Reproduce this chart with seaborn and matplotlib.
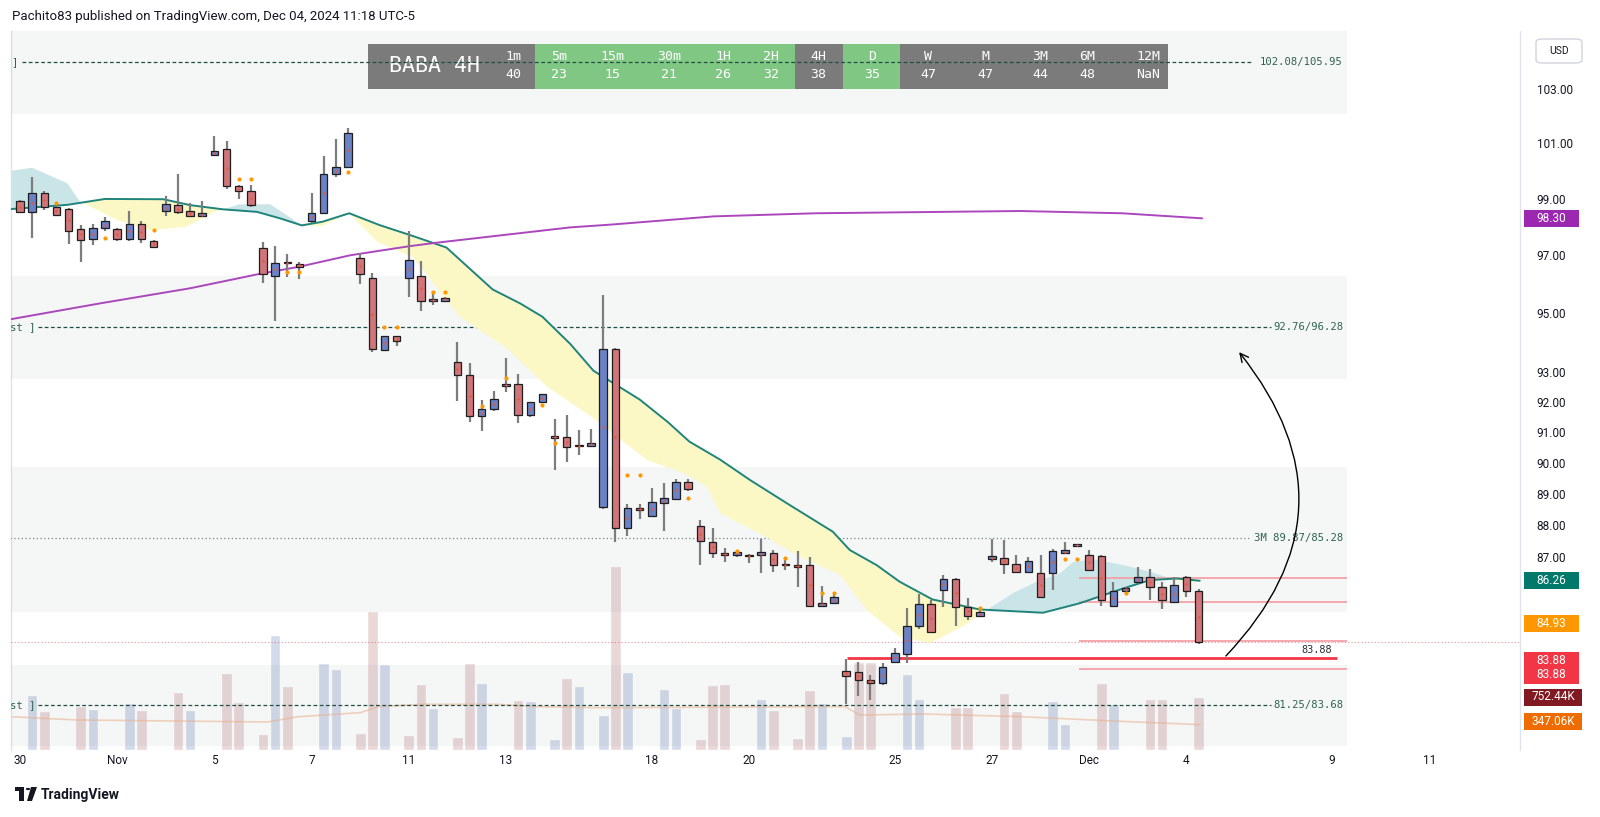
import numpy as np
import pandas as pd
import seaborn as sns
import matplotlib.pyplot as plt
from matplotlib.patches import Rectangle, FancyArrowPatch, FancyBboxPatch
from matplotlib.ticker import NullFormatter, NullLocator

# -----------------------------------
# Candles (4H bars, bar 0 = Oct 30 first bar)
# -----------------------------------
opens = [98.91, 98.53, 99.19, 98.71, 98.62, 97.94, 97.56, 97.96, 97.91, 97.58,
         98.10, 97.51, 98.56, 98.76, 98.56, 98.39, 100.58, 100.78, 99.44, 99.26,
         97.26, 96.28, 96.75, 96.70, 98.19, 98.50, 99.88, 100.14, 96.90, 96.19,
         93.75, 94.20, 96.22, 96.29, 95.40, 95.42, 93.34, 92.89, 91.52, 91.77,
         92.54, 92.61, 91.55, 91.98, 90.86, 90.83, 90.55, 90.55, 88.58, 93.76,
         87.92, 88.55, 88.28, 88.69, 88.84, 89.37, 87.96, 87.47, 87.13, 87.06,
         87.02, 87.04, 87.12, 86.75, 86.74, 86.74, 85.48, 85.55, 83.49, 83.46,
         83.22, 83.14, 83.76, 84.01, 84.86, 85.54, 85.96, 86.31, 85.45, 85.17,
         86.92, 86.95, 86.76, 86.53, 86.48, 86.48, 87.12, 87.33, 87.06, 87.03,
         85.46, 85.94, 86.20, 86.36, 86.05, 85.59, 86.36, 85.93]
highs = [98.95, 99.78, 99.27, 98.75, 98.65, 98.06, 98.11, 98.34, 97.95, 98.55,
         98.20, 97.55, 99.09, 99.90, 98.83, 98.93, 101.26, 101.10, 99.50, 99.49,
         97.45, 97.32, 97.06, 96.76, 99.20, 100.53, 101.14, 101.57, 97.08, 96.39,
         94.22, 94.22, 97.85, 96.81, 95.76, 95.55, 94.00, 93.31, 92.07, 92.35,
         93.48, 92.92, 91.99, 92.27, 91.44, 91.56, 91.08, 91.10, 95.62, 93.80,
         88.68, 88.68, 89.18, 89.36, 89.47, 89.47, 88.16, 87.91, 87.28, 87.20,
         87.08, 87.55, 87.21, 86.90, 87.17, 86.98, 86.08, 85.80, 83.85, 83.75,
         83.37, 83.72, 84.18, 85.40, 85.83, 85.65, 86.43, 86.35, 85.71, 85.45,
         87.55, 87.53, 87.07, 86.98, 87.04, 87.25, 87.46, 87.40, 87.21, 87.05,
         86.21, 86.05, 86.69, 86.63, 86.21, 86.37, 86.40, 86.00]
lows = [98.50, 97.59, 98.59, 98.40, 97.38, 96.76, 97.35, 97.86, 97.51, 97.51,
        97.44, 97.27, 98.38, 98.44, 98.36, 98.36, 100.55, 99.35, 98.98, 98.69,
        96.02, 94.73, 96.25, 96.16, 98.12, 98.45, 99.76, 100.10, 96.00, 93.67,
        93.72, 93.88, 95.54, 95.07, 95.26, 95.40, 92.04, 91.33, 91.04, 91.71,
        92.32, 91.31, 91.49, 91.96, 89.76, 90.03, 90.27, 90.53, 88.50, 87.47,
        87.66, 88.18, 88.25, 87.82, 88.80, 89.10, 86.74, 86.96, 86.82, 87.00,
        86.79, 86.50, 86.53, 86.58, 86.06, 85.45, 85.43, 85.52, 82.50, 82.74,
        82.61, 83.08, 83.76, 83.74, 84.76, 84.66, 85.45, 84.85, 85.04, 85.14,
        86.84, 86.45, 86.50, 86.50, 85.70, 85.96, 87.08, 87.31, 86.55, 85.48,
        85.44, 85.90, 86.18, 85.64, 85.39, 85.55, 85.75, 84.30]
closes = [98.53, 99.19, 98.69, 98.43, 97.84, 97.52, 97.96, 98.20, 97.56, 98.10,
          97.56, 97.29, 98.80, 98.52, 98.39, 98.48, 100.72, 99.44, 99.26, 98.78,
          96.33, 96.73, 96.73, 96.60, 98.50, 99.89, 100.14, 101.36, 96.33, 93.77,
          94.20, 94.03, 96.83, 95.40, 95.47, 95.51, 92.89, 91.52, 91.76, 92.11,
          92.61, 91.55, 91.98, 92.25, 90.80, 90.52, 90.54, 90.65, 93.78, 87.92,
          88.55, 88.47, 88.73, 88.85, 89.37, 89.14, 87.50, 87.12, 87.06, 87.15,
          87.01, 87.14, 86.73, 86.74, 86.67, 85.48, 85.57, 85.75, 83.34, 83.21,
          83.14, 83.60, 84.04, 84.85, 85.54, 84.68, 86.31, 85.45, 85.17, 85.28,
          87.03, 86.76, 86.53, 86.88, 85.74, 87.19, 87.20, 87.39, 86.58, 85.64,
          85.94, 86.02, 86.36, 86.07, 85.64, 86.11, 85.92, 84.35]

# -----------------------------------
# Volume (thousands), only bars that show a column
# -----------------------------------
vol_idx = [1, 2, 5, 6, 9, 10, 13, 14, 17, 18, 20, 21, 22, 25, 26, 28, 29, 30, 32, 33,
           34, 36, 37, 38, 41, 42, 44, 45, 46, 48, 49, 50, 53, 54, 56, 57, 58, 61, 62, 64,
           65, 66, 68, 69, 70, 73, 74, 77, 78, 81, 82, 85, 86, 89, 90, 93, 94, 97]
vol_k = [781, 558, 625, 586, 667, 572, 824, 572, 1098, 682, 227, 1637, 905, 1231, 1150,
         246, 1974, 1217, 217, 937, 601, 185, 1231, 951, 710, 696, 156, 1022, 913, 497,
         2609, 1108, 862, 601, 152, 923, 937, 728, 572, 170, 852, 663, 199, 1250, 1250,
         1083, 720, 615, 615, 809, 558, 696, 365, 951, 653, 728, 728, 752]
vol_up = [1, 0, 0, 1, 1, 0, 0, 1, 0, 0, 0, 1, 0, 1, 1, 0, 0, 1, 0, 0,
          1, 0, 0, 1, 0, 1, 1, 0, 1, 1, 0, 1, 1, 1, 0, 0, 0, 1, 0, 0,
          0, 1, 1, 0, 0, 1, 1, 0, 0, 0, 0, 1, 1, 0, 1, 0, 0, 0]
vol_ma_i = [-0.8, 4.7, 20.4, 22.9, 28.0, 29.5, 33.0, 39.3, 42.5, 47.7, 67.9, 69.1, 74.5, 82.4, 90.0, 97.1]
vol_ma_k = [473, 426, 398, 473, 530, 615, 649, 649, 615, 601, 615, 497, 511, 473, 412, 360]

# -----------------------------------
# Moving averages / cloud
# -----------------------------------
ma_long_i = [-0.7, 6.6, 14.0, 19.5, 23.0, 27.2, 32.1, 34.3, 45.3, 48.7, 57.1, 65.5, 73.9, 82.3, 90.7, 97.3]
ma_long_p = [94.79, 95.33, 95.85, 96.33, 96.60, 97.00, 97.32, 97.44, 97.98, 98.08, 98.37, 98.48, 98.52, 98.56, 98.48, 98.30]

ma_slow_i = [-0.7, 3.9, 7.0, 11.8, 14.0, 16.7, 19.5, 21.4, 23.2, 24.9, 27.1, 29.6, 32.1, 35.1, 38.9,
             41.2, 43.0, 45.3, 47.2, 51.0, 53.3, 55.1, 57.6, 60.1, 63.1, 66.9, 68.3, 70.5, 72.4,
             75.1, 79.0, 84.2, 87.2, 90.8, 93.0, 95.2, 97.1]
ma_slow_p = [98.63, 98.78, 98.99, 98.98, 98.77, 98.62, 98.53, 98.30, 98.05, 98.18, 98.48, 98.06, 97.71,
             97.27, 95.81, 95.32, 94.87, 93.94, 93.04, 92.08, 91.34, 90.69, 90.11, 89.44, 88.70, 87.79,
             87.21, 86.74, 86.22, 85.67, 85.36, 85.26, 85.55, 86.01, 86.27, 86.32, 86.25]

ma_fast_i = [-0.7, 1.0, 3.9, 4.9, 8.0, 10.7, 13.7, 16.0, 18.1, 20.6, 23.2, 24.9, 27.1, 29.4, 32.3,
             36.2, 40.1, 43.4, 47.1, 51.6, 54.6, 56.5, 57.6, 60.9, 64.2, 67.5, 69.7, 72.4, 74.9,
             77.6, 79.6, 81.7, 83.7, 85.6, 86.7, 88.3, 90.8, 93.0, 94.4, 95.7, 97.1]
ma_fast_p = [100.00, 100.11, 99.55, 98.91, 98.24, 97.88, 98.00, 98.53, 98.80, 98.80, 98.05, 98.03,
             98.48, 97.47, 96.94, 94.87, 93.79, 92.50, 91.49, 90.09, 89.67, 89.24, 88.38, 87.73,
             87.00, 86.43, 85.34, 84.53, 84.33, 84.84, 85.35, 85.86, 86.22, 86.48, 86.84, 86.92,
             86.74, 86.53, 86.36, 86.19, 86.22]

# orange signal dots
sig_i = [3, 7, 11, 18, 19, 22, 23, 27, 30, 31, 34, 35, 38, 40, 43, 44, 50, 51, 55, 59, 63, 66, 67, 79, 86, 87, 91]
sig_p = [98.83, 97.61, 97.88, 99.71, 99.71, 96.41, 96.41, 99.95, 94.51, 94.51, 95.72, 95.72, 91.88, 92.79,
         91.89, 90.65, 89.59, 89.59, 88.88, 87.18, 86.95, 85.88, 85.88, 85.42, 86.92, 86.92, 85.86]

# -----------------------------------
# Zones and levels
# -----------------------------------
zone_lo = [102.08, 92.76, 85.28, 81.25]
zone_hi = [105.95, 96.28, 89.87, 83.68]
zone_text = ["102.08/105.95", "92.76/96.28", "3M 89.87/85.28", "81.25/83.68"]
red_levels = [86.35, 85.60, 84.41, 83.54]
support = 83.88
last_price = 84.35

tick_vals = [103, 101, 99, 97, 95, 93, 92, 91, 90, 89, 88, 87]
xtick_pos = [0, 8, 16, 24, 32, 40, 52, 60, 72, 80, 88, 96, 108, 116]
xtick_lab = ["30", "Nov", "5", "7", "11", "13", "18", "20", "25", "27", "Dec", "4", "9", "11"]

tf_names = ["1m", "5m", "15m", "30m", "1H", "2H", "4H", "D", "W", "M", "3M", "6M", "12M"]
tf_vals = ["40", "23", "15", "21", "26", "32", "38", "35", "47", "47", "44", "48", "NaN"]

# -----------------------------------
# Figure setup
# -----------------------------------
sns.set_theme(style="white")
plt.rcParams["font.family"] = ["Roboto", "DejaVu Sans"]
MONO = "DejaVu Sans Mono"

W, H = 1600, 817
fig = plt.figure(figsize=(16, 8.17), dpi=100)
fig.patch.set_facecolor("white")

L, R, T, B = 10.5, 1520, 30.6, 750
rect = [L / W, 1 - B / H, (R - L) / W, (B - T) / H]
ax_vol = fig.add_axes(rect)
ax = fig.add_axes(rect, sharex=ax_vol)
ax.patch.set_visible(False)

idx = np.arange(len(opens))
o = np.array(opens)
c = np.array(closes)
up = c >= o

# -----------------------------------
# Volume pane
# -----------------------------------
vcolors = ["#d3daeb" if u else "#ead7d8" for u in vol_up]
ax_vol.bar(vol_idx, vol_k, width=0.88, color=vcolors, zorder=1)
sns.lineplot(x=vol_ma_i, y=vol_ma_k, ax=ax_vol, color="#f2b48f", alpha=0.55, lw=1.2, zorder=2)
ax_vol.set_ylim(0, (B - T) * 14.2)

# -----------------------------------
# Timeframe table (inside the pane, under the level lines)
# -----------------------------------
cells = [(367.6, 535.3, "#7b7b7b"), (535.3, 794.8, "#81c784"), (794.8, 842.6, "#7b7b7b"),
         (842.6, 900.0, "#81c784"), (900.0, 1168.0, "#7b7b7b")]
for x0, x1, col in cells:
    ax.add_patch(Rectangle((x0 / W, 1 - 88.5 / H), (x1 - x0) / W, 44.5 / H,
                           transform=fig.transFigure, fc=col, ec="none", zorder=0.5))
ax.text(435 / W, 1 - 66.5 / H, "BABA 4H", transform=fig.transFigure, ha="center", va="center",
        fontsize=15.5, family=MONO, color="white", zorder=0.6)
col_x = [513, 559.5, 612.5, 669, 723, 771.5, 818.5, 872, 928.5, 985, 1040, 1087, 1148]
for cx, nm, vv in zip(col_x, tf_names, tf_vals):
    ax.text(cx / W, 1 - 57 / H, nm, transform=fig.transFigure, ha="center", va="center",
            fontsize=9.5, family=MONO, color="white", zorder=0.6)
    ax.text(cx / W, 1 - 74.5 / H, vv, transform=fig.transFigure, ha="center", va="center",
            fontsize=9.5, family=MONO, color="white", zorder=0.6)

# -----------------------------------
# Zones, levels
# -----------------------------------
for lo, hi in zip(zone_lo, zone_hi):
    ax.fill_between([-1, 109.2], lo, hi, color="#5f7373", alpha=0.06, lw=0, zorder=0)

mids = [(lo + hi) / 2 for lo, hi in zip(zone_lo, zone_hi)]
dash_start = [0.2, 1.45, -0.8, 1.45]
dash_end = [101.5, 103.0, 101.2, 103.0]
for k, m in enumerate(mids):
    if k == 2:
        ax.hlines(m, dash_start[k], dash_end[k], color="#6f8a80", lw=0.9, ls=(0, (1, 2)), zorder=1)
    else:
        ax.hlines(m, dash_start[k], dash_end[k], color="#1f4f42", lw=0.9, ls=(0, (3, 2)), zorder=1)
    ax.text(108.9, m, zone_text[k], ha="right", va="center", fontsize=7.6,
            family=MONO, color="#2f6252", zorder=6)

ax.text(-0.45, mids[0], "]", ha="center", va="center", fontsize=7.6, family=MONO, color="#2f6252")
ax.text(1.25, mids[1], "st ]", ha="right", va="center", fontsize=7.6, family=MONO, color="#2f6252")
ax.text(1.25, mids[3], "st ]", ha="right", va="center", fontsize=7.6, family=MONO, color="#2f6252")

ax.axhline(last_price, color="#f23645", lw=0.8, ls=(0, (1, 2)), alpha=0.55, zorder=1)
for lv in red_levels:
    ax.hlines(lv, 87.2, 109.2, color="#f4a1a7", lw=1.3, zorder=2)
ax.hlines(support, 68.1, 108.4, color="#f23645", lw=2.0, zorder=2)
ax.text(108.0, support * 1.0012, f"{support:.2f}", ha="right", va="bottom",
        fontsize=7.4, family=MONO, color="#2a2e39")

# -----------------------------------
# Cloud + MAs
# -----------------------------------
grid = np.linspace(ma_slow_i[0], ma_slow_i[-1], 800)
slow_g = np.interp(grid, ma_slow_i, ma_slow_p)
fast_g = np.interp(grid, ma_fast_i, ma_fast_p)
ax.fill_between(grid, slow_g, fast_g, where=fast_g >= slow_g, interpolate=True,
                color="#c9e5e8", lw=0, zorder=1)
ax.fill_between(grid, slow_g, fast_g, where=fast_g < slow_g, interpolate=True,
                color="#fbf8c6", lw=0, zorder=1)

sns.lineplot(x=ma_slow_i, y=ma_slow_p, ax=ax, color="#1f847b", lw=1.4, zorder=2)
sns.lineplot(x=ma_long_i, y=ma_long_p, ax=ax, color="#ab47bc", lw=1.4, zorder=2)

# -----------------------------------
# Candles
# -----------------------------------
ax.vlines(idx, lows, highs, color="#7d7d7d", lw=1.6, zorder=3)
body_lo = np.minimum(o, c)
body_h = np.maximum(np.abs(c - o), 0.03)
ax.bar(idx, body_h, bottom=body_lo, width=0.62,
       color=np.where(up, "#6b82c6", "#d0767b"), edgecolor="#1e1e1e", lw=0.9, zorder=4)
ax.scatter(idx, (o + c) / 2, s=3, color="#e4573a", zorder=5, lw=0)
ax.scatter(sig_i, sig_p, s=9, color="#ff9800", zorder=5, lw=0)

# -----------------------------------
# Arrow
# -----------------------------------
arrow = FancyArrowPatch((99.1, 83.88), (100.2, 93.74), connectionstyle="arc3,rad=0.44",
                        arrowstyle="->,head_length=6,head_width=3", color="black", lw=1.0, zorder=6)
ax.add_patch(arrow)

# -----------------------------------
# Axes
# -----------------------------------
ax.set_yscale("log")
ax.set_ylim(81.14, 105.19)
ax.set_xlim(-0.78, 123.46)
ax.yaxis.tick_right()
ax.set_yticks(tick_vals)
ax.set_yticklabels([f"{v:.2f}" for v in tick_vals])
ax.yaxis.set_minor_locator(NullLocator())
ax.yaxis.set_minor_formatter(NullFormatter())
ax.tick_params(axis="y", length=0, pad=12, labelsize=8.5, labelcolor="#131722")
ax.set_xticks(xtick_pos)
ax.set_xticklabels(xtick_lab)
ax.tick_params(axis="x", length=0, pad=3, labelsize=8.5, labelcolor="#131722")
ax.set_xlabel("")
ax.set_ylabel("")
ax_vol.set_yticks([])
ax_vol.tick_params(axis="x", labelbottom=False, length=0)
for s in ax.spines.values():
    s.set_visible(False)
for name, s in ax_vol.spines.items():
    s.set_visible(name in ("left", "right"))
    s.set_color("#e0e3eb")
    s.set_linewidth(1.0)

# -----------------------------------
# Price tags on the right
# -----------------------------------
def tag(text, fc, price=None, y_px=None, w=55, h=17, x0=1524):
    if y_px is None:
        yd = ax.transData.transform((0, price))[1]
    else:
        yd = H - y_px
    fig.patches.append(Rectangle((x0 / W, (yd - h / 2) / H), w / W, h / H,
                                 transform=fig.transFigure, fc=fc, ec="none", zorder=5))
    fig.text((x0 + w / 2) / W, yd / H, text, ha="center", va="center",
             color="white", fontsize=8.5, zorder=6, linespacing=1.05)

tag("98.30", "#9c27b0", price=98.30)
tag("86.26", "#00796b", price=86.26)
tag("84.93", "#ff9800", price=84.93)
tag("83.88\n83.88", "#f23645", y_px=667.5, h=32)
tag("752.44K", "#801922", y_px=697, w=58)
tag("347.06K", "#ef6c00", y_px=721.5, w=58)

# USD box
fig.patches.append(FancyBboxPatch((1536 / W, 1 - 63 / H), 46 / W, 24 / H,
                                  boxstyle="round,pad=0,rounding_size=0.004",
                                  transform=fig.transFigure, fc="white", ec="#d1d4dc", lw=1))
fig.text(1559 / W, 1 - 51 / H, "USD", ha="center", va="center", fontsize=7.5, color="#131722")

# -----------------------------------
# Header / footer
# -----------------------------------
fig.text(12 / W, 1 - 16.5 / H, "Pachito83 published on TradingView.com, Dec 04, 2024 11:18 UTC-5",
         ha="left", va="center", fontsize=9.5, color="#131722")
fig.patches.append(Rectangle((15 / W, 1 - 791 / H), 9 / W, 4 / H, transform=fig.transFigure,
                             fc="#131722", ec="none"))
fig.patches.append(Rectangle((19 / W, 1 - 801 / H), 5 / W, 12 / H, transform=fig.transFigure,
                             fc="#131722", ec="none"))
fig.patches.append(plt.Circle((28 / W, 1 - 789 / H), 2.2 / W, transform=fig.transFigure,
                              fc="#131722", ec="none"))
fig.patches.append(plt.Polygon([[31 / W, 1 - 787 / H], [37 / W, 1 - 787 / H], [32 / W, 1 - 801 / H],
                                [27 / W, 1 - 801 / H]], closed=True, transform=fig.transFigure,
                               fc="#131722", ec="none"))
fig.text(41 / W, 1 - 794.5 / H, "TradingView", ha="left", va="center", fontsize=10,
         fontweight="bold", color="#131722")

plt.savefig("out.png", dpi=100)
